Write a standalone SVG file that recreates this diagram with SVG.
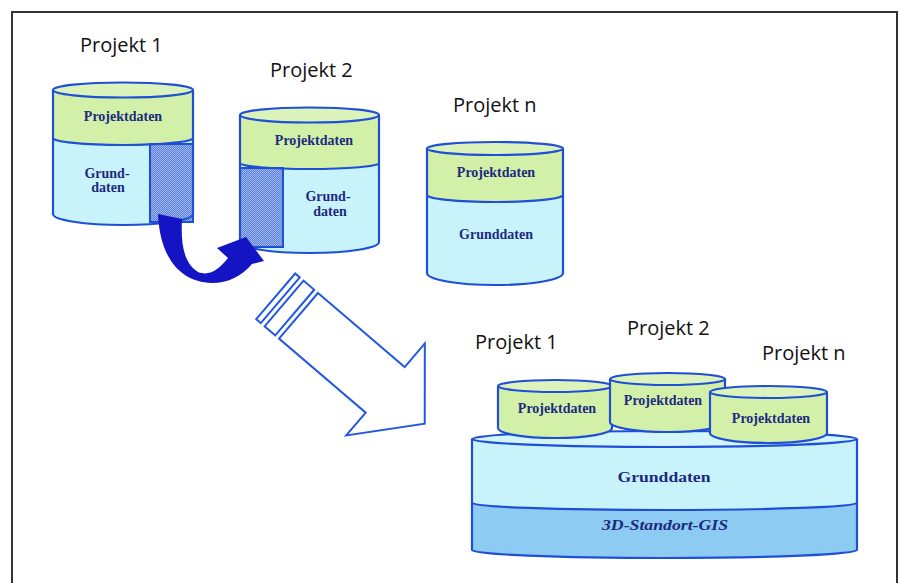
<svg xmlns="http://www.w3.org/2000/svg" width="900" height="583" viewBox="0 0 900 583">
<defs>
<pattern id="hatch" patternUnits="userSpaceOnUse" width="2" height="2">
<rect width="2" height="2" fill="#9ab6ec"/>
<path d="M0,2 L2,0" stroke="#5274d4" stroke-width="0.8"/>
</pattern>
</defs>
<style>
.out{stroke:#1f4fd6;stroke-width:2.2;fill:none}
.green{fill:#d3f0a8}
.gtop{fill:#dcf4bc;stroke:#1f4fd6;stroke-width:2.2}
.cyan{fill:#c9f3fb}
.ctop{fill:#d3f5fc;stroke:#1f4fd6;stroke-width:2.2}
.gis{fill:#8ecbf2}
.hatch{fill:url(#hatch);stroke:#1f4fd6;stroke-width:2}
.lbl{font-family:"Open Sans","Noto Sans",sans-serif;font-size:20px;fill:#111}
.in{font-family:"Liberation Serif","Times New Roman",serif;font-weight:bold;font-size:14px;fill:#1c2a80;text-anchor:middle}
</style>
<rect width="900" height="583" fill="#ffffff"/>
<path d="M12,583 V12 H897 V583" fill="none" stroke="#333" stroke-width="2"/>

<g id="cyl1">
<path class="cyan" d="M53,90 V214 A70,11 0 0 0 193,214 V90 Z"/>
<path class="green" d="M53,90 V138 A70,7 0 0 0 193,138 V90 Z"/>
<rect class="hatch" x="150" y="144" width="43" height="78"/>
<path class="out" d="M53,138 A70,7 0 0 0 193,138"/>
<path class="out" d="M53,90 V214 A70,11 0 0 0 193,214 V90"/>
<ellipse class="gtop" cx="123" cy="90" rx="70" ry="7.5"/>
<text class="in" x="123" y="121">Projektdaten</text>
<text class="in" x="107" y="178" font-size="13">Grund-</text>
<text class="in" x="108" y="192" font-size="13">daten</text>
</g>

<g id="cyl2">
<path class="cyan" d="M240,115 V242 A69.5,11 0 0 0 379,242 V115 Z"/>
<path class="green" d="M240,115 V163 A69.5,6 0 0 0 379,163 V115 Z"/>
<rect class="hatch" x="240" y="168" width="43" height="79"/>
<path class="out" d="M240,163 A69.5,6 0 0 0 379,163"/>
<path class="out" d="M240,115 V242 A69.5,11 0 0 0 379,242 V115"/>
<ellipse class="gtop" cx="309.5" cy="115" rx="69.5" ry="7.5"/>
<text class="in" x="314" y="145">Projektdaten</text>
<text class="in" x="328" y="201" font-size="13">Grund-</text>
<text class="in" x="330" y="216" font-size="13">daten</text>
</g>

<g id="cyln">
<path class="cyan" d="M427,148 V273 A68,12 0 0 0 563,273 V148 Z"/>
<path class="green" d="M427,148 V195 A68,7 0 0 0 563,195 V148 Z"/>
<path class="out" d="M427,195 A68,7 0 0 0 563,195"/>
<path class="out" d="M427,148 V273 A68,12 0 0 0 563,273 V148"/>
<ellipse class="gtop" cx="495" cy="148.5" rx="68" ry="6.5"/>
<text class="in" x="496" y="177">Projektdaten</text>
<text class="in" x="496" y="239">Grunddaten</text>
</g>

<g id="labels-top">
<text class="lbl" x="80" y="52">Projekt 1</text>
<text class="lbl" x="270" y="77">Projekt 2</text>
<text class="lbl" x="453" y="112">Projekt n</text>
</g>

<g id="connectors">
<path d="M158,214 L182,219 C181,240 182,262 198,272 C210,277 220,268 228,258 L217,248 L246,237 L264,261 L252,264 C242,276 228,283 212,283 C180,282 160,258 158,214 Z" fill="#1414c4"/>
<g transform="translate(318,293) rotate(40.5)" fill="#fff" stroke="#2458e0" stroke-width="2" stroke-linejoin="miter">
<polygon points="0,0 114,0 114,-31 166,30 114,90 114,60 0,60"/>
<rect x="-19" y="0" width="14" height="60"/>
<rect x="-30" y="0" width="6" height="60"/>
</g>
</g>

<g id="base">
<path class="gis" d="M472,439 V550 A192.5,8 0 0 0 857,550 V439 Z"/>
<path class="cyan" d="M472,439 V503 A192.5,7 0 0 0 857,503 V439 Z"/>
<path class="out" d="M472,503 A192.5,7 0 0 0 857,503"/>
<path class="out" d="M472,439 V550 A192.5,8 0 0 0 857,550 V439"/>
<ellipse class="ctop" cx="664.5" cy="439" rx="192.5" ry="8"/>
<text class="in" x="664" y="482" font-size="18" textLength="93" lengthAdjust="spacingAndGlyphs">Grunddaten</text>
<text class="in" x="665" y="530" font-size="18" font-style="italic" textLength="126" lengthAdjust="spacingAndGlyphs">3D-Standort-GIS</text>
</g>

<g id="p1">
<path class="green" d="M498,386 V428 A57,10 0 0 0 612,428 V386 Z"/>
<path class="out" d="M498,386 V428 A57,10 0 0 0 612,428 V386"/>
<ellipse class="gtop" cx="555" cy="386" rx="57" ry="6"/>
<text class="in" x="557" y="413">Projektdaten</text>
</g>
<g id="p2">
<path class="green" d="M610,379 V422 A57.5,10 0 0 0 725,422 V379 Z"/>
<path class="out" d="M610,379 V422 A57.5,10 0 0 0 725,422 V379"/>
<ellipse class="gtop" cx="667.5" cy="379" rx="57.5" ry="6"/>
<text class="in" x="663" y="405">Projektdaten</text>
</g>
<g id="pn">
<path class="green" d="M710,392 V433 A58.5,10 0 0 0 827,433 V392 Z"/>
<path class="out" d="M710,392 V433 A58.5,10 0 0 0 827,433 V392"/>
<ellipse class="gtop" cx="768.5" cy="392" rx="58.5" ry="6"/>
<text class="in" x="771" y="423" font-size="15">Projektdaten</text>
</g>

<g id="labels-bottom">
<text class="lbl" x="475" y="349">Projekt 1</text>
<text class="lbl" x="627" y="335">Projekt 2</text>
<text class="lbl" x="762" y="360">Projekt n</text>
</g>
</svg>
